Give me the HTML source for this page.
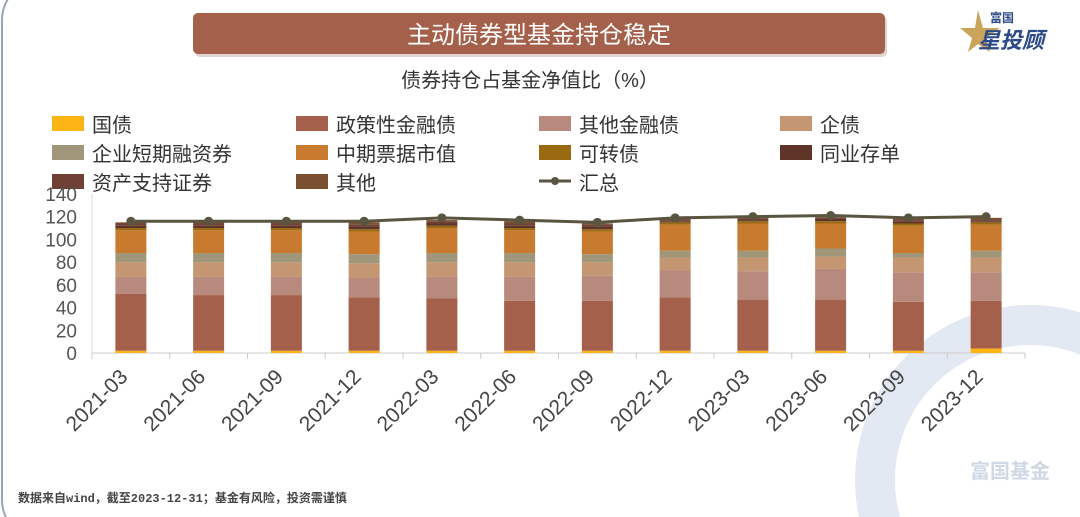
<!DOCTYPE html>
<html><head><meta charset="utf-8"><style>
html,body{margin:0;padding:0;background:#fff;width:1080px;height:517px;overflow:hidden;}
body{position:relative;font-family:"Liberation Sans","Noto Sans CJK SC",sans-serif;}
svg{overflow:hidden;display:block}
</style></head><body>
<svg id="s" width="1080" height="517" viewBox="0 0 1080 517" xmlns="http://www.w3.org/2000/svg" style="position:absolute;left:0;top:0">
<rect x="2" y="-20" width="1100" height="560" rx="40" fill="none" stroke="#9aa6b8" stroke-width="2"/>
<circle cx="1030" cy="480" r="155" fill="none" stroke="#e3e9f2" stroke-width="40"/>
<text x="1010" y="478" font-size="20" fill="#d0d8e4" text-anchor="middle" font-weight="bold" font-family="Liberation Sans,Noto Sans CJK SC,sans-serif">富国基金</text>
<rect x="195" y="16" width="692" height="41" rx="5" fill="#c9b8b0" opacity="0.6"/>
<rect x="193" y="13" width="692" height="41" rx="5" fill="#a5604b"/>
<text x="539" y="43" font-size="24" fill="#fff" text-anchor="middle" font-family="Liberation Sans,Noto Sans CJK SC,sans-serif">主动债券型基金持仓稳定</text>
<text x="990" y="22" font-size="12" fill="#2b4a8a" font-weight="bold" font-family="Liberation Sans,Noto Sans CJK SC,sans-serif">富国</text>
<polygon points="978,10 983,28 1000,28 986,38 990,52 978,44 968,52 972,38 960,28 975,28" fill="#c9a45a"/>
<text x="978" y="48" font-size="22" fill="#2b4a8a" font-weight="bold" font-style="italic" font-family="Liberation Sans,Noto Sans CJK SC,sans-serif">星投顾</text>
<text x="530" y="87" font-size="20" fill="#333" text-anchor="middle" font-family="Liberation Sans,Noto Sans CJK SC,sans-serif">债券持仓占基金净值比（%）</text>
<g id="leg" font-size="20" fill="#333" font-family="Liberation Sans,Noto Sans CJK SC,sans-serif"></g>
<g id="ax" font-size="19" fill="#555" font-family="Liberation Sans,sans-serif"></g>
<g id="bars"></g>
<g id="ln"></g>
<g id="xl" font-size="21" fill="#444" font-family="Liberation Sans,sans-serif"></g>
<text x="18" y="502" font-size="12" fill="#444" font-weight="bold" font-family="Liberation Mono,Noto Sans CJK SC,monospace">数据来自wind，截至2023-12-31；基金有风险，投资需谨慎</text>
</svg>
<script>
var NS="http://www.w3.org/2000/svg";
function el(p,t,a,txt){var e=document.createElementNS(NS,t);for(var k in a)e.setAttribute(k,a[k]);if(txt)e.textContent=txt;document.getElementById(p).appendChild(e);return e;}
var cols=["#fdb515","#a5604b","#b88a7e","#c49772","#a0967a","#c87a2e","#9a6a10","#5e3428","#6e4036","#7a5030"];
var names=["国债","政策性金融债","其他金融债","企债","企业短期融资券","中期票据市值","可转债","同业存单","资产支持证券","其他"];
var lx=[52,296,539,780];
for(var i=0;i<names.length;i++){var r=Math.floor(i/4),c=i%4;
el("leg","rect",{x:lx[c],y:116+r*29,width:32,height:15,fill:cols[i]});
el("leg","text",{x:lx[c]+40,y:132+r*29},names[i]);}
el("leg","line",{x1:539,y1:181,x2:571,y2:181,stroke:"#5a5540","stroke-width":3});
el("leg","circle",{cx:555,cy:181,r:4,fill:"#5a5540"});
el("leg","text",{x:579,y:190},"汇总");
function Y(v){return 353-v*1.136;}
for(var v=0;v<=140;v+=20){el("ax","text",{x:77,y:Y(v)+7,"text-anchor":"end"},String(v));}
el("ax","line",{x1:92,y1:353,x2:1025,y2:353,stroke:"#ccc","stroke-width":1});
el("ax","line",{x1:92,y1:194,x2:92,y2:353,stroke:"#ddd","stroke-width":1});
var W=77.75;
for(var i=0;i<=12;i++)el("ax","line",{x1:92+i*W,y1:353,x2:92+i*W,y2:359,stroke:"#ccc"});
var tops=[
[2,52,67,80,88,108,110,112,114,115],
[2,51,67,80,88,108,110,112,114,115],
[2,51,67,80,88,108,110,112,114,115],
[2,49,66,79,87,107,109,111,113,115],
[2,48,67,80,88,110,112,114,116,117],
[2,46,67,80,88,108,110,112,114,116],
[2,46,68,80,87,107,109,111,113,114],
[2,49,73,84,90,113,115,116,117,118],
[2,47,72,84,90,114,116,117,118,119],
[2,47,74,85,92,114,116,118,119,120],
[2,45,71,84,88,112,114,116,117,118],
[4,46,71,84,90,113,115,116,117,119]];
var line=[116,116,116,116,119,117,115,119,120,121,119,120];
var labs=["2021-03","2021-06","2021-09","2021-12","2022-03","2022-06","2022-09","2022-12","2023-03","2023-06","2023-09","2023-12"];
var pts=[];
for(var i=0;i<12;i++){var cx=92+W*(i+0.5);var prev=0;
for(var k=0;k<10;k++){var t=tops[i][k];el("bars","rect",{x:cx-15.5,y:Y(t),width:31,height:(t-prev)*1.136,fill:cols[k]});prev=t;}
pts.push(cx+","+Y(line[i]));
var ax=cx-2,ay=378;
el("xl","text",{x:ax,y:ay,"text-anchor":"end",transform:"rotate(-45 "+ax+" "+ay+")"},labs[i]);}
el("ln","polyline",{points:pts.join(" "),fill:"none",stroke:"#5a5540","stroke-width":3});
for(var i=0;i<12;i++){var p=pts[i].split(",");el("ln","circle",{cx:p[0],cy:p[1],r:4.5,fill:"#5a5540"});}
</script>
</body></html>
